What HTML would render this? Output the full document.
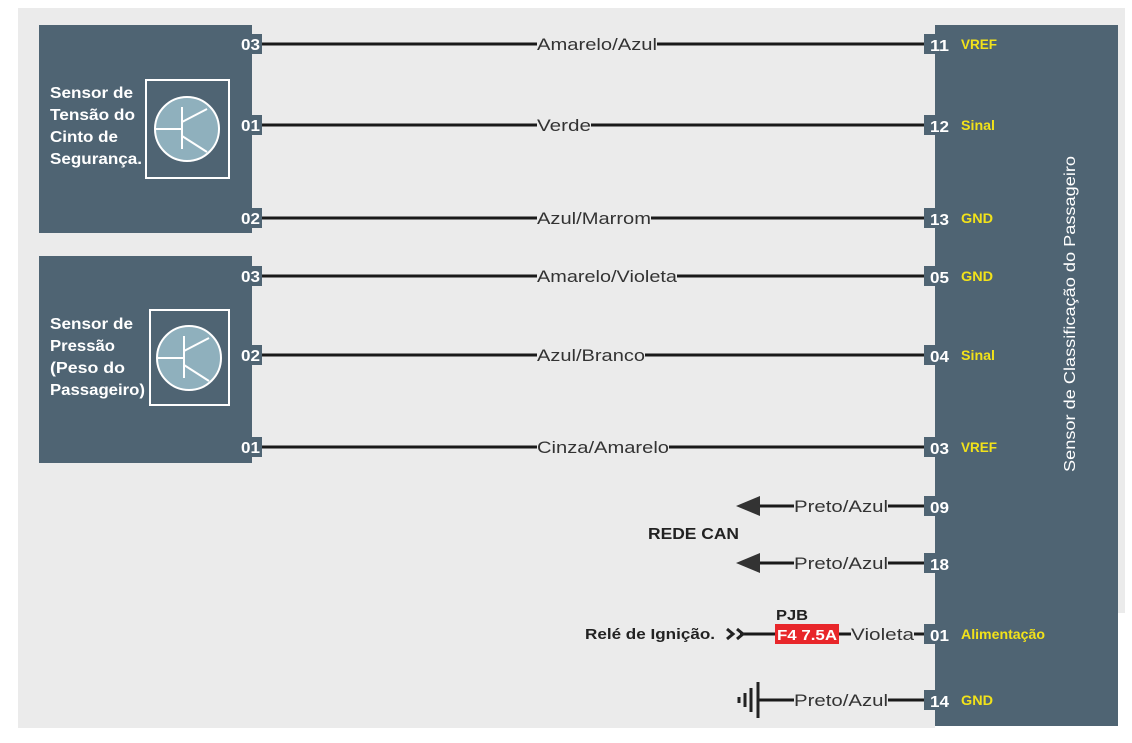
<!DOCTYPE html>
<html><head><meta charset="utf-8"><style>
body{margin:0;width:1132px;height:738px;background:#fff;overflow:hidden}
svg text{font-family:"Liberation Sans",Arial,sans-serif}
</style></head><body>
<svg width="1132" height="738" xmlns="http://www.w3.org/2000/svg">
<rect x="18" y="8" width="1107" height="605" fill="#ebebeb"/>
<rect x="18" y="600" width="917" height="128" fill="#ebebeb"/>
<rect x="39" y="25" width="213" height="208" fill="#4f6473"/>
<rect x="39" y="256" width="213" height="207" fill="#4f6473"/>
<rect x="935" y="25" width="183" height="701" fill="#4f6473"/>
<g fill="#fff" font-weight="bold" font-size="16" lengthAdjust="spacingAndGlyphs">
<text x="50" y="98" textLength="83" lengthAdjust="spacingAndGlyphs">Sensor de</text><text x="50" y="120" textLength="85" lengthAdjust="spacingAndGlyphs">Tensão do</text><text x="50" y="142" textLength="68" lengthAdjust="spacingAndGlyphs">Cinto de</text><text x="50" y="164" textLength="92" lengthAdjust="spacingAndGlyphs">Segurança.</text>
<text x="50" y="329" textLength="83" lengthAdjust="spacingAndGlyphs">Sensor de</text><text x="50" y="351" textLength="65" lengthAdjust="spacingAndGlyphs">Pressão</text><text x="50" y="373" textLength="75" lengthAdjust="spacingAndGlyphs">(Peso do</text><text x="50" y="395" textLength="95" lengthAdjust="spacingAndGlyphs">Passageiro)</text>
</g>
<g stroke="#fff" stroke-width="2" fill="none">
<rect x="146" y="80" width="83" height="98"/>
<rect x="150" y="310" width="79" height="95"/>
</g>
<g stroke="#fff" stroke-width="2">
<circle cx="187" cy="129" r="32" fill="#8fb0bd"/>
<line x1="156" y1="129" x2="182" y2="129"/><line x1="182" y1="107" x2="182" y2="149"/>
<line x1="182" y1="122" x2="207" y2="109"/><line x1="182" y1="136" x2="207" y2="152"/>
<circle cx="189" cy="358" r="32" fill="#8fb0bd"/>
<line x1="158" y1="358" x2="184" y2="358"/><line x1="184" y1="336" x2="184" y2="378"/>
<line x1="184" y1="351" x2="209" y2="338"/><line x1="184" y1="365" x2="209" y2="381"/>
</g>
<g stroke="#1a1a1a" stroke-width="3">
<line x1="262" y1="44" x2="924" y2="44"/><line x1="262" y1="125" x2="924" y2="125"/>
<line x1="262" y1="218" x2="924" y2="218"/><line x1="262" y1="276" x2="924" y2="276"/>
<line x1="262" y1="355" x2="924" y2="355"/><line x1="262" y1="447" x2="924" y2="447"/>
<line x1="760" y1="506" x2="924" y2="506"/><line x1="760" y1="563" x2="924" y2="563"/>
<line x1="740" y1="634" x2="924" y2="634"/><line x1="758" y1="700" x2="924" y2="700"/>
</g>
<g fill="#ebebeb">
<rect x="537" y="34" width="120" height="20"/><rect x="537" y="115" width="54" height="20"/>
<rect x="537" y="208" width="114" height="20"/><rect x="537" y="266" width="140" height="20"/>
<rect x="537" y="345" width="108" height="20"/><rect x="537" y="437" width="132" height="20"/>
<rect x="794" y="496" width="94" height="20"/><rect x="794" y="553" width="94" height="20"/>
<rect x="851" y="624" width="63" height="20"/><rect x="794" y="690" width="94" height="20"/>
</g>
<g fill="#333" font-size="17">
<text x="537" y="50" textLength="120" lengthAdjust="spacingAndGlyphs">Amarelo/Azul</text><text x="537" y="131" textLength="54" lengthAdjust="spacingAndGlyphs">Verde</text>
<text x="537" y="224" textLength="114" lengthAdjust="spacingAndGlyphs">Azul/Marrom</text><text x="537" y="282" textLength="140" lengthAdjust="spacingAndGlyphs">Amarelo/Violeta</text>
<text x="537" y="361" textLength="108" lengthAdjust="spacingAndGlyphs">Azul/Branco</text><text x="537" y="453" textLength="132" lengthAdjust="spacingAndGlyphs">Cinza/Amarelo</text>
<text x="794" y="512" textLength="94" lengthAdjust="spacingAndGlyphs">Preto/Azul</text><text x="794" y="569" textLength="94" lengthAdjust="spacingAndGlyphs">Preto/Azul</text>
<text x="851" y="640" textLength="63" lengthAdjust="spacingAndGlyphs">Violeta</text><text x="794" y="706" textLength="94" lengthAdjust="spacingAndGlyphs">Preto/Azul</text>
</g>
<g fill="#4f6473">
<rect x="240" y="34" width="22" height="20"/><rect x="240" y="115" width="22" height="20"/><rect x="240" y="208" width="22" height="20"/>
<rect x="240" y="266" width="22" height="20"/><rect x="240" y="345" width="22" height="20"/><rect x="240" y="437" width="22" height="20"/>
<rect x="924" y="34" width="14" height="20"/><rect x="924" y="115" width="14" height="20"/><rect x="924" y="208" width="14" height="20"/>
<rect x="924" y="266" width="14" height="20"/><rect x="924" y="345" width="14" height="20"/><rect x="924" y="437" width="14" height="20"/>
<rect x="924" y="496" width="14" height="20"/><rect x="924" y="553" width="14" height="20"/><rect x="924" y="624" width="14" height="20"/><rect x="924" y="690" width="14" height="20"/>
</g>
<g fill="#fff" font-weight="bold" font-size="16">
<text x="241" y="50" textLength="19" lengthAdjust="spacingAndGlyphs">03</text><text x="241" y="131" textLength="19" lengthAdjust="spacingAndGlyphs">01</text><text x="241" y="224" textLength="19" lengthAdjust="spacingAndGlyphs">02</text>
<text x="241" y="282" textLength="19" lengthAdjust="spacingAndGlyphs">03</text><text x="241" y="361" textLength="19" lengthAdjust="spacingAndGlyphs">02</text><text x="241" y="453" textLength="19" lengthAdjust="spacingAndGlyphs">01</text>
<text x="930" y="51" textLength="19" lengthAdjust="spacingAndGlyphs">11</text><text x="930" y="132" textLength="19" lengthAdjust="spacingAndGlyphs">12</text><text x="930" y="225" textLength="19" lengthAdjust="spacingAndGlyphs">13</text>
<text x="930" y="283" textLength="19" lengthAdjust="spacingAndGlyphs">05</text><text x="930" y="362" textLength="19" lengthAdjust="spacingAndGlyphs">04</text><text x="930" y="454" textLength="19" lengthAdjust="spacingAndGlyphs">03</text>
<text x="930" y="513" textLength="19" lengthAdjust="spacingAndGlyphs">09</text><text x="930" y="570" textLength="19" lengthAdjust="spacingAndGlyphs">18</text><text x="930" y="641" textLength="19" lengthAdjust="spacingAndGlyphs">01</text><text x="930" y="707" textLength="19" lengthAdjust="spacingAndGlyphs">14</text>
</g>
<g fill="#f2e21a" font-weight="bold" font-size="14">
<text x="961" y="49" textLength="36" lengthAdjust="spacingAndGlyphs">VREF</text><text x="961" y="130" textLength="34" lengthAdjust="spacingAndGlyphs">Sinal</text><text x="961" y="223" textLength="32" lengthAdjust="spacingAndGlyphs">GND</text>
<text x="961" y="281" textLength="32" lengthAdjust="spacingAndGlyphs">GND</text><text x="961" y="360" textLength="34" lengthAdjust="spacingAndGlyphs">Sinal</text><text x="961" y="452" textLength="36" lengthAdjust="spacingAndGlyphs">VREF</text>
<text x="961" y="639" textLength="84" lengthAdjust="spacingAndGlyphs">Alimentação</text><text x="961" y="705" textLength="32" lengthAdjust="spacingAndGlyphs">GND</text>
</g>
<text transform="translate(1075,314) rotate(-90)" text-anchor="middle" fill="#fff" font-size="16" textLength="316" lengthAdjust="spacingAndGlyphs">Sensor de Classificação do Passageiro</text>
<polygon points="736,506 760,496 760,516" fill="#333"/>
<polygon points="736,563 760,553 760,573" fill="#333"/>
<text x="648" y="539" font-weight="bold" font-size="16" fill="#222" textLength="91" lengthAdjust="spacingAndGlyphs">REDE CAN</text>
<text x="585" y="639" font-weight="bold" font-size="15" fill="#222" textLength="130" lengthAdjust="spacingAndGlyphs">Relé de Ignição.</text>
<g stroke="#222" stroke-width="3" fill="none">
<polyline points="727,629 733,634 727,639"/><polyline points="737,629 743,634 737,639"/>
</g>
<text x="776" y="620" font-weight="bold" font-size="15" fill="#222" textLength="32" lengthAdjust="spacingAndGlyphs">PJB</text>
<rect x="775" y="624" width="64" height="20" fill="#e8262a"/>
<text x="777" y="640" font-weight="bold" font-size="15" fill="#fff" textLength="60" lengthAdjust="spacingAndGlyphs">F4 7.5A</text>
<g stroke="#222" stroke-width="3">
<line x1="758" y1="682" x2="758" y2="718"/><line x1="751" y1="688" x2="751" y2="712"/>
<line x1="745" y1="693" x2="745" y2="707"/><line x1="739" y1="697" x2="739" y2="703"/>
</g>
</svg>
</body></html>
